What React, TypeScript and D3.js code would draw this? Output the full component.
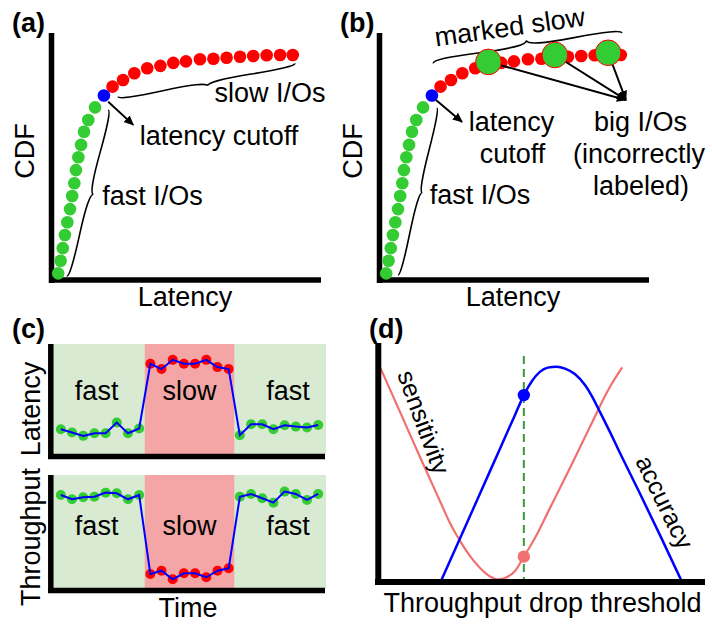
import React from "react";
import * as d3 from "d3";

// ---------- Panel (a)/(b): CDF of I/O latency ----------
const fastLatency = [2.3, 3.2, 4.0, 4.8, 5.7, 6.7, 7.5, 8.3, 8.9, 9.8, 10.8, 11.9, 13.5, 16.0];
const fastCdf = [2.7, 7.8, 12.9, 18.2, 23.4, 28.7, 34.0, 39.2, 44.5, 49.7, 54.7, 60.0, 64.8, 69.9];
const cutoffLatency = 19.3;
const cutoffCdf = 74.7;
const slowLatency = [22.5, 26.4, 30.6, 35.4, 40.3, 45.1, 49.8, 55.0, 60.0, 64.9, 69.9, 74.8, 79.8, 84.8, 89.5];
const slowCdf = [78.3, 81.0, 83.7, 85.7, 86.7, 87.9, 88.5, 89.4, 89.6, 90.0, 90.4, 90.7, 91.0, 91.1, 91.1];
const bigLatency = [40.3, 65.0, 84.8];
const bigCdf = [88.3, 91.1, 92.0];

// ---------- Panel (c): latency / throughput over time ----------
const timeSteps = d3.range(24);
const latencySeries = [22.5, 19.5, 16.5, 18.9, 18.9, 28.6, 18.9, 23.2, 82.0, 77.2, 85.6, 82.0, 82.0, 85.6, 79.0, 77.2, 17.1, 27.0, 27.0, 22.5, 26.1, 24.9, 24.1, 26.4];
const throughputSeries = [82.3, 78.5, 80.3, 80.8, 84.4, 83.8, 78.5, 82.3, 12.4, 15.3, 7.7, 13.0, 13.0, 9.5, 15.3, 17.4, 80.8, 83.2, 79.4, 75.5, 85.3, 83.2, 77.9, 83.2];
const slowWindow = [7.5, 15.5];
const phaseLabels = ["fast", "slow", "fast"];
const phaseCenters = [3.2, 11.5, 20.3];

// ---------- Panel (d): sensitivity / accuracy vs threshold ----------
const sensThreshold = [0.8, 6.7, 12.8, 19.0, 22.0, 25.1, 28.1, 31.2, 34.3, 36.3, 38.8, 41.9, 44.6, 48.0, 52.6, 58.7, 64.8, 70.9, 74.7];
const sensValue = [89.4, 71.3, 52.4, 33.7, 24.7, 17.2, 10.9, 5.9, 2.3, 1.1, 1.7, 4.6, 10.6, 18.4, 31.0, 47.7, 64.9, 81.6, 89.8];
const accThreshold = [19.5, 25.1, 31.2, 37.3, 41.9, 44.6, 47.1, 49.5, 51.9, 54.6, 57.2, 60.2, 63.3, 65.4, 67.9, 71.0, 74.0, 80.1, 86.2, 92.6];
const accValue = [1.1, 18.3, 37.0, 55.8, 69.9, 78.2, 84.1, 87.9, 89.7, 90.1, 89.3, 87.0, 82.4, 77.8, 71.1, 62.6, 54.0, 37.0, 19.7, 1.1];
const chosenThreshold = 44.6;
const chosenAccuracy = 78.2;
const chosenSensitivity = 10.6;

const FONT = "'Liberation Sans', Arial, Helvetica, sans-serif";
const RED = "#ff0000";
const GREEN = "#33cc33";
const BLUE = "#0000ff";
const SALMON = "#f07070";

// curly brace between two points, bulging to the left of the (x2->x1) direction
function bracePath(x1: number, y1: number, x2: number, y2: number, w: number, q = 0.6) {
  let dx = x1 - x2;
  let dy = y1 - y2;
  const len = Math.sqrt(dx * dx + dy * dy);
  dx /= len;
  dy /= len;
  const qx1 = x1 + q * w * dy;
  const qy1 = y1 - q * w * dx;
  const qx2 = x1 - 0.25 * len * dx + (1 - q) * w * dy;
  const qy2 = y1 - 0.25 * len * dy - (1 - q) * w * dx;
  const tx1 = x1 - 0.5 * len * dx + w * dy;
  const ty1 = y1 - 0.5 * len * dy - w * dx;
  const qx3 = x2 + q * w * dy;
  const qy3 = y2 - q * w * dx;
  const qx4 = x1 - 0.75 * len * dx + (1 - q) * w * dy;
  const qy4 = y1 - 0.75 * len * dy - (1 - q) * w * dx;
  return `M${x1},${y1} Q${qx1},${qy1} ${qx2},${qy2} T${tx1},${ty1} M${x2},${y2} Q${qx3},${qy3} ${qx4},${qy4} T${tx1},${ty1}`;
}

const T = (props: any) => (
  <text fontFamily={FONT} fontSize={27} fill="#000" textAnchor="middle" {...props} />
);

function CdfPanel({ ox, marked }: { ox: number; marked: boolean }) {
  const x = d3.scaleLinear().domain([0, 100]).range([ox + 52, ox + 321]);
  const y = d3.scaleLinear().domain([0, 100]).range([280, 33]);
  const R = 6.3;
  return (
    <g>
      {/* axes */}
      <line x1={ox + 51.5} y1={33} x2={ox + 51.5} y2={283} stroke="#000" strokeWidth={5.5} />
      <line x1={ox + 49} y1={280} x2={ox + 321} y2={280} stroke="#000" strokeWidth={5.5} />
      <T x={ox + 185} y={306}>Latency</T>
      <T transform={`translate(${ox + 34},151) rotate(-90)`}>CDF</T>

      {/* points */}
      {fastLatency.map((v, i) => (
        <circle key={"f" + i} cx={x(v)} cy={y(fastCdf[i])} r={R} fill={GREEN} />
      ))}
      {slowLatency.map((v, i) => (
        <circle key={"s" + i} cx={x(v)} cy={y(slowCdf[i])} r={R} fill={RED} />
      ))}
      <circle cx={x(cutoffLatency)} cy={y(cutoffCdf)} r={R} fill={BLUE} />

      {!marked && (
        <g>
          <path d={bracePath(x(24.6), y(74.2), x(90.3), y(87.7), 6)} fill="none" stroke="#000" strokeWidth={1.6} />
          <T x={ox + 270} y={102}>slow I/Os</T>
          <line x1={x(20.9)} y1={y(72.2)} x2={x(30.2)} y2={y(62.8)} stroke="#000" strokeWidth={2} markerEnd="url(#arrow)" />
          <T x={ox + 219} y={145}>latency cutoff</T>
          <path d={bracePath(x(5.5), y(1.6), x(20.9), y(68.8), 6)} fill="none" stroke="#000" strokeWidth={1.6} />
          <T x={ox + 152.5} y={205}>fast I/Os</T>
        </g>
      )}
      {marked && (
        <g>
          <path d={bracePath(x(89.9), y(99.9), x(19.8), y(87.7), 8)} fill="none" stroke="#000" strokeWidth={1.6} />
          <T transform={`translate(${ox + 183},36) rotate(-8)`}>marked slow</T>
          {bigLatency.map((v, i) => (
            <line key={"a" + i} x1={x(v)} y1={y(bigCdf[i])} x2={x(91.4)} y2={y(72.9)} stroke="#000" strokeWidth={2} markerEnd="url(#arrow)" />
          ))}
          {bigLatency.map((v, i) => (
            <circle key={"b" + i} cx={x(v)} cy={y(bigCdf[i])} r={12.8} fill={GREEN} stroke={RED} strokeWidth={1} />
          ))}
          <line x1={x(20.8)} y1={y(72.9)} x2={x(30.5)} y2={y(64.0)} stroke="#000" strokeWidth={2} markerEnd="url(#arrow)" />
          <T x={ox + 183.5} y={131}>latency</T>
          <T x={ox + 184.5} y={163}>cutoff</T>
          <path d={bracePath(x(6.7), y(2.0), x(21.1), y(69.6), 5)} fill="none" stroke="#000" strokeWidth={1.6} />
          <T x={ox + 152} y={204}>fast I/Os</T>
          <T x={ox + 312.5} y={131}>big I/Os</T>
          <T x={ox + 311} y={163}>(incorrectly</T>
          <T x={ox + 313} y={195}>labeled)</T>
        </g>
      )}
    </g>
  );
}

function TimeSubplot({ top, bottom, values, invert }: { top: number; bottom: number; values: number[]; invert: boolean }) {
  const x = d3.scaleLinear().domain([-0.7, 23.7]).range([53, 326]);
  const y = d3.scaleLinear().domain([0, 100]).range([bottom, top]);
  const line = d3
    .line<number>()
    .x((_, i) => x(timeSteps[i]))
    .y((v) => y(v));
  const isSlow = (t: number) => t > slowWindow[0] && t < slowWindow[1];
  const labelY = invert ? bottom - 53 : bottom - 54;
  return (
    <g>
      <rect x={x(-0.7)} y={top} width={x(23.7) - x(-0.7)} height={bottom - top} fill="#d9ead3" />
      <rect x={x(slowWindow[0])} y={top} width={x(slowWindow[1]) - x(slowWindow[0])} height={bottom - top} fill="#f4a6a6" />
      {values.map((v, i) => (
        <circle key={i} cx={x(timeSteps[i])} cy={y(v)} r={5} fill={isSlow(timeSteps[i]) ? RED : GREEN} />
      ))}
      <path d={line(values) || ""} fill="none" stroke={BLUE} strokeWidth={2} />
      {phaseLabels.map((s, i) => (
        <T key={i} x={x(phaseCenters[i])} y={labelY}>{s}</T>
      ))}
      <line x1={50.8} y1={top} x2={50.8} y2={bottom + 5} stroke="#000" strokeWidth={5.5} />
      <line x1={48} y1={bottom + 2.5} x2={325} y2={bottom + 2.5} stroke="#000" strokeWidth={5.5} />
    </g>
  );
}

function ThresholdPanel() {
  const x = d3.scaleLinear().domain([0, 100]).range([378, 705]);
  const y = d3.scaleLinear().domain([0, 100]).range([582, 343]);
  const line = d3
    .line<[number, number]>()
    .x((d) => x(d[0]))
    .y((d) => y(d[1]))
    .curve(d3.curveMonotoneX);
  const sens = sensThreshold.map((t, i) => [t, sensValue[i]] as [number, number]);
  const acc = accThreshold.map((t, i) => [t, accValue[i]] as [number, number]);
  return (
    <g>
      <line x1={x(chosenThreshold)} y1={y(94.6)} x2={x(chosenThreshold)} y2={y(0)} stroke="#3a9a3a" strokeWidth={2} strokeDasharray="8,5" />
      <path d={line(sens) || ""} fill="none" stroke={SALMON} strokeWidth={2.2} />
      <path d={line(acc) || ""} fill="none" stroke={BLUE} strokeWidth={2.5} />
      <circle cx={x(chosenThreshold)} cy={y(chosenAccuracy)} r={6.2} fill={BLUE} />
      <circle cx={x(chosenThreshold)} cy={y(chosenSensitivity)} r={6.2} fill={SALMON} />
      <T fontSize={25} dominantBaseline="central" transform="translate(424,422) rotate(70)">sensitivity</T>
      <T fontSize={25} dominantBaseline="central" transform="translate(665,502) rotate(64)">accuracy</T>
      <line x1={378.3} y1={343} x2={378.3} y2={585} stroke="#000" strokeWidth={6} />
      <line x1={375} y1={582} x2={705} y2={582} stroke="#000" strokeWidth={6} />
      <T x={542.5} y={612}>Throughput drop threshold</T>
    </g>
  );
}

export default function App() {
  return (
    <svg width={712} height={626} viewBox="0 0 712 626" style={{ position: "absolute", left: 0, top: 0, background: "#fff" }}>
      <defs>
        <marker id="arrow" viewBox="0 0 10 10" refX={9} refY={5} markerWidth={10} markerHeight={10} markerUnits="userSpaceOnUse" orient="auto">
          <path d="M0,0.5 L10,5 L0,9.5 z" fill="#000" />
        </marker>
      </defs>
      <rect width={712} height={626} fill="#fff" />

      <T x={12} y={32} textAnchor="start" fontWeight="bold" fontSize={27}>(a)</T>
      <T x={340} y={32} textAnchor="start" fontWeight="bold" fontSize={27}>(b)</T>
      <T x={12} y={338} textAnchor="start" fontWeight="bold" fontSize={27}>(c)</T>
      <T x={369} y={338} textAnchor="start" fontWeight="bold" fontSize={27}>(d)</T>

      <CdfPanel ox={0} marked={false} />
      <CdfPanel ox={328} marked={true} />

      <TimeSubplot top={344} bottom={454} values={latencySeries} invert={false} />
      <TimeSubplot top={475} bottom={588} values={throughputSeries} invert={true} />
      <T transform="translate(40,409) rotate(-90)">Latency</T>
      <T transform="translate(40,537) rotate(-90)">Throughput</T>
      <T x={188} y={617}>Time</T>

      <ThresholdPanel />
    </svg>
  );
}
